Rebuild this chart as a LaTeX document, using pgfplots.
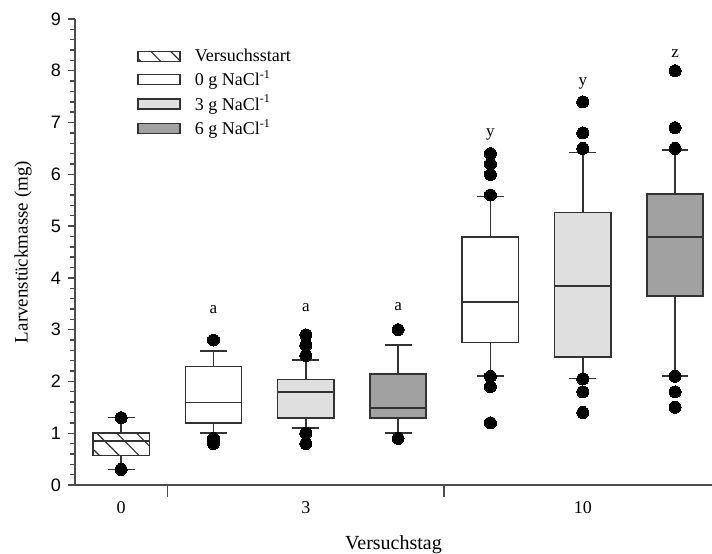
\documentclass[border=0pt]{standalone}
\usepackage{fontspec}
\setmainfont{Liberation Serif}
\newfontfamily\arialfont{Liberation Sans}
\usepackage{pgfplots}
\pgfplotsset{compat=1.18}
\usepgfplotslibrary{statistics}
\usetikzlibrary{patterns.meta}

\definecolor{boxline}{gray}{0.2}
\definecolor{axisline}{gray}{0.3}
\definecolor{lightfill}{gray}{0.875}
\definecolor{darkfill}{gray}{0.63}

\tikzset{
  hatch/.style={pattern={Lines[angle=-45,distance=7pt,line width=0.6pt]}, pattern color=boxline},
}
\pgfplotsset{
  boxplot/draw direction=y,
  boxplot/box extend=0.61,
  boxplot/whisker extend=0.29,
  bx/.style={draw=boxline, line width=0.8pt, solid, mark=*, mark size=3pt,
    mark options={draw=black, fill=black, line width=0pt}, forget plot},
}

\begin{document}
\begin{tikzpicture}
\begin{axis}[
  name=ax,
  scale only axis,
  width=318.5pt, height=233pt,
  xmin=-0.5, xmax=6.4, ymin=0, ymax=9,
  axis x line*=bottom, axis y line*=left,
  axis line style={line width=0.8pt, draw=axisline},
  tick align=outside,
  major tick length=3.5pt, minor tick length=2.5pt,
  xtick={0,2,5}, xticklabels={0,3,10},
  xtick style={draw=none},
  xticklabel style={anchor=center, yshift=-8pt, font=\fontsize{9}{10}\selectfont},
  extra x ticks={0.5,3.5}, extra x tick labels={},
  extra x tick style={major tick length=6pt, xtick style={draw=axisline, line width=0.8pt}},
  ytick={0,1,...,9}, yticklabels={0,1,2,3,4,5,6,7,8,9},
  minor y tick num=4,
  ytick style={draw=axisline, line width=0.7pt},
  yticklabel style={font=\arialfont\fontsize{9}{10}\selectfont},
  xlabel={Versuchstag},
  xlabel style={at={(axis description cs:0.5,-0.128)}, anchor=center, font=\fontsize{10}{12}\selectfont},
  ylabel={Larvenstückmasse (mg)},
  ylabel style={at={(axis description cs:-0.0815,0.5)}, anchor=center, font=\fontsize{9.5}{11}\selectfont},
  legend style={draw=none, fill=none, at={(rel axis cs:0.0876,0.952)}, anchor=north west,
    font=\fontsize{9}{10}\selectfont, row sep=0pt, nodes={inner sep=1.5pt},
    /tikz/every odd column/.append style={column sep=5.5pt}},
  legend cell align=left,
]

% Tag 0: Versuchsstart
\addplot[bx, hatch, boxplot prepared={draw position=0,
  lower whisker=0.3, lower quartile=0.57, median=0.85,
  upper quartile=1.0, upper whisker=1.3}]
  table[row sep=\\, y=y] {y\\ 1.3\\ 0.3\\};

% Tag 3
\addplot[bx, fill=white, boxplot prepared={draw position=1,
  lower whisker=1.0, lower quartile=1.2, median=1.59,
  upper quartile=2.29, upper whisker=2.59}]
  table[row sep=\\, y=y] {y\\ 2.8\\ 0.9\\ 0.8\\};
\addplot[bx, fill=lightfill, boxplot prepared={draw position=2,
  lower whisker=1.1, lower quartile=1.29, median=1.8,
  upper quartile=2.04, upper whisker=2.41}]
  table[row sep=\\, y=y] {y\\ 2.9\\ 2.7\\ 2.5\\ 1.0\\ 0.8\\};
\addplot[bx, fill=darkfill, boxplot prepared={draw position=3,
  lower whisker=1.0, lower quartile=1.29, median=1.49,
  upper quartile=2.14, upper whisker=2.7}]
  table[row sep=\\, y=y] {y\\ 3.0\\ 0.9\\};

% Tag 10
\addplot[bx, fill=white, boxplot prepared={draw position=4,
  lower whisker=2.1, lower quartile=2.75, median=3.54,
  upper quartile=4.79, upper whisker=5.57}]
  table[row sep=\\, y=y] {y\\ 6.4\\ 6.2\\ 6.0\\ 5.6\\ 2.1\\ 1.9\\ 1.2\\};
\addplot[bx, fill=lightfill, boxplot prepared={draw position=5,
  lower whisker=2.06, lower quartile=2.47, median=3.84,
  upper quartile=5.26, upper whisker=6.42}]
  table[row sep=\\, y=y] {y\\ 7.4\\ 6.8\\ 6.5\\ 2.05\\ 1.8\\ 1.4\\};
\addplot[bx, fill=darkfill, boxplot prepared={draw position=6,
  lower whisker=2.11, lower quartile=3.65, median=4.79,
  upper quartile=5.62, upper whisker=6.47}]
  table[row sep=\\, y=y] {y\\ 8.0\\ 6.9\\ 6.5\\ 2.1\\ 1.8\\ 1.5\\};

% Signifikanzbuchstaben
\addplot[draw=none, mark=none, forget plot, nodes near coords, point meta=explicit symbolic,
  every node near coord/.style={anchor=center, inner sep=0pt, font=\fontsize{8.5}{10}\selectfont}]
  table[meta=lab] {
x y lab
1 3.38 a
2 3.42 a
3 3.44 a
4 6.77 y
5 7.75 y
6 8.33 z
};

% Legende
\addlegendimage{legend image code/.code={\draw[draw=boxline, line width=0.8pt, hatch] (0pt,-2.5pt) rectangle (21pt,2.5pt);}}
\addlegendentry{Versuchsstart}
\addlegendimage{legend image code/.code={\draw[draw=boxline, line width=0.8pt, fill=white] (0pt,-2.5pt) rectangle (21pt,2.5pt);}}
\addlegendentry{0 g NaCl\textsuperscript{-1}}
\addlegendimage{legend image code/.code={\draw[draw=boxline, line width=0.8pt, fill=lightfill] (0pt,-2.5pt) rectangle (21pt,2.5pt);}}
\addlegendentry{3 g NaCl\textsuperscript{-1}}
\addlegendimage{legend image code/.code={\draw[draw=boxline, line width=0.8pt, fill=darkfill] (0pt,-2.5pt) rectangle (21pt,2.5pt);}}
\addlegendentry{6 g NaCl\textsuperscript{-1}}
\end{axis}
\pgfresetboundingbox
\path ([xshift=-37.5pt, yshift=-34.5pt]ax.south west) rectangle ([yshift=9.5pt]ax.north east);
\end{tikzpicture}
\end{document}
